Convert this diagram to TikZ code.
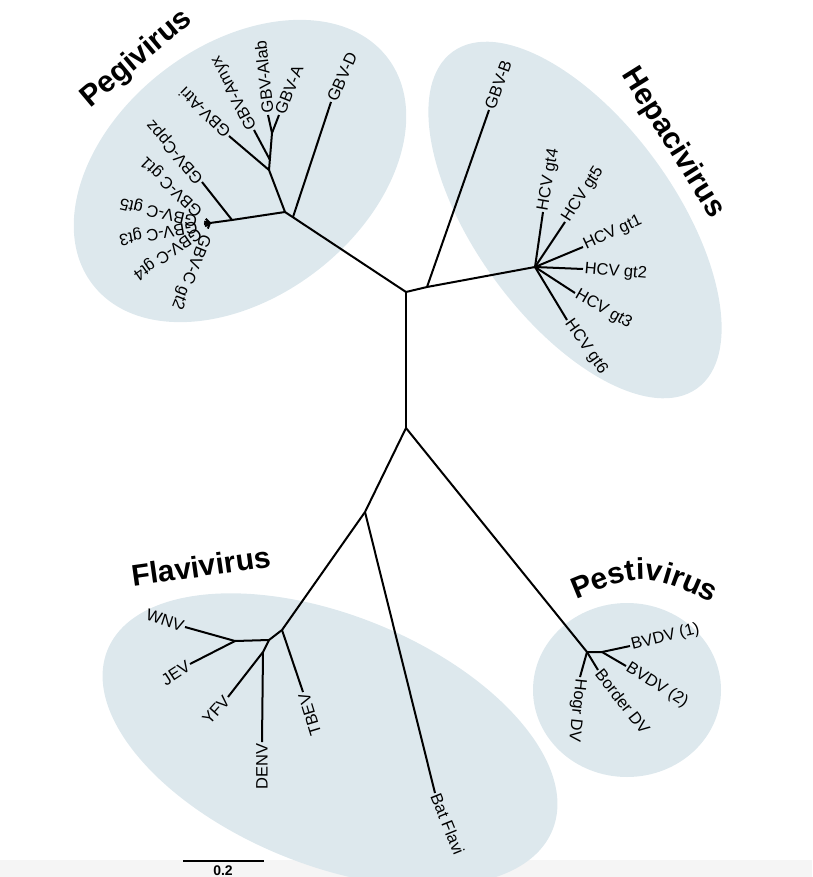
\documentclass[tikz,border=0pt]{standalone}
\usepackage{fontspec}
\setmainfont{Liberation Sans}
\usetikzlibrary{decorations.text}
\definecolor{cladebg}{HTML}{DDE8ED}
\definecolor{stripbg}{HTML}{F5F5F5}

\begin{document}
\begin{tikzpicture}[x=1pt,y=-1pt,
    branch/.style={line width=2pt},
    leaf/.style={font=\fontsize{16.5}{16.5}\selectfont, inner sep=1.5pt},
    crowdleaf/.style={leaf, inner xsep=7pt},
    cladename/.style={font=\bfseries\fontsize{30}{30}\selectfont, inner sep=0pt}
  ]
  \useasboundingbox (0,0) rectangle (812,877);
  \fill[stripbg] (0,860) rectangle (812,877);
  \fill[cladebg, rotate around={37.6:(240,171)}] (240,171) ellipse (186pt and 126pt);
  \fill[cladebg, rotate around={-54:(575,220)}] (575,220) ellipse (208pt and 100pt);
  \fill[cladebg, rotate around={-22:(330,740)}] (330,740) ellipse (240pt and 125pt);
  \fill[cladebg] (627,690) ellipse (94pt and 87pt);

  \node[cladename, rotate=40] (pegivirus) at (137,59) {Pegivirus};
  \node[cladename, rotate=-58] (hepacivirus) at (673,143) {Hepacivirus};
  \node[cladename, rotate=8] (flavivirus) at (201,566) {Flavivirus};
  \path[decorate, decoration={text along path, text align=center,
      text={|\bfseries\fontsize{30}{30}\selectfont|Pestivirus}}]
    (565,604) .. controls (644,571) .. (723,608);

  \coordinate (pegihepa) at (406,292);
  \coordinate (flavipesti) at (406,428);
  \coordinate (pegi) at (285,212);
  \coordinate (gbvdbase) at (293,217);
  \coordinate (gbvab) at (269,170);
  \coordinate (gbvamyx) at (270,160);
  \coordinate (gbvalab) at (272,133);
  \coordinate (gbvc) at (232,220);
  \coordinate (gbvchub) at (210,223);
  \coordinate (hepa) at (427,287);
  \coordinate (hcvhub) at (535,267);
  \coordinate (flavi) at (365,512);
  \coordinate (mbflavi) at (282,630);
  \coordinate (mbsplit) at (269,640);
  \coordinate (jewn) at (235,641);
  \coordinate (dyf) at (263,652);
  \coordinate (pesti) at (587,652);
  \coordinate (bvdv) at (602,652);

  \node[leaf, rotate=66, anchor=west] (gbvD) at (331,102) {GBV-D};
  \node[leaf, rotate=68, anchor=west] (gbvA) at (279,115) {GBV-A};
  \node[leaf, rotate=96, anchor=west] (gbvAlab) at (268,115) {GBV-Alab};
  \node[leaf, rotate=118, anchor=west] (gbvAmyx) at (254,130) {GBV-Amyx};
  \node[leaf, rotate=136, anchor=west] (gbvAtri) at (229,136) {GBV-Atri};
  \node[leaf, rotate=131, anchor=west] (gbvCppz) at (202,182) {GBV-Cppz};
  \node[crowdleaf, rotate=136, anchor=west] (gbvCgt1) at (205.7,218.8) {GBV-C gt1};
  \node[crowdleaf, rotate=167, anchor=west] (gbvCgt5) at (204.2,221.6) {GBV-C gt5};
  \node[crowdleaf, rotate=190, anchor=west] (gbvCgt3) at (204.1,224.0) {GBV-C gt3};
  \node[crowdleaf, rotate=215, anchor=west] (gbvCgt4) at (205.1,226.4) {GBV-C gt4};
  \node[crowdleaf, rotate=248, anchor=west] (gbvCgt2) at (207.8,228.6) {GBV-C gt2};

  \node[leaf, rotate=70, anchor=west] (gbvB) at (489,110) {GBV-B};
  \node[leaf, rotate=80, anchor=west] (hcvgt4) at (543,212) {HCV gt4};
  \node[leaf, rotate=57, anchor=west] (hcvgt5) at (565,222) {HCV gt5};
  \node[leaf, rotate=25, anchor=west] (hcvgt1) at (583,247) {HCV gt1};
  \node[leaf, rotate=-5, anchor=west] (hcvgt2) at (583,269) {HCV gt2};
  \node[leaf, rotate=-30, anchor=west] (hcvgt3) at (575,293) {HCV gt3};
  \node[leaf, rotate=-55, anchor=west] (hcvgt6) at (567,320) {HCV gt6};

  \node[leaf, rotate=-68, anchor=west] (batflavi) at (435,793) {Bat Flavi};
  \node[leaf, rotate=107, anchor=east] (tbev) at (303,692) {TBEV};
  \node[leaf, rotate=-18, anchor=east] (wnv) at (185,627) {WNV};
  \node[leaf, rotate=33, anchor=east] (jev) at (190,664) {JEV};
  \node[leaf, rotate=48, anchor=east] (yfv) at (228,697) {YFV};
  \node[leaf, rotate=90, anchor=east] (denv) at (262,742) {DENV};

  \node[leaf, rotate=14, anchor=west] (bvdvone) at (630,646) {BVDV (1)};
  \node[leaf, rotate=-32, anchor=west] (bvdvtwo) at (626,666) {BVDV (2)};
  \node[leaf, rotate=-52, anchor=west] (borderdv) at (598,670) {Border DV};
  \node[leaf, rotate=-96, anchor=west] (hogrdv) at (580,677) {Hogr DV};

  \draw[branch] (pegihepa) -- (flavipesti);
  \draw[branch] (pegihepa) -- (pegi);
  \draw[branch] (gbvdbase) -- (gbvD.west);
  \draw[branch] (pegi) -- (gbvab) -- (gbvalab);
  \draw[branch] (gbvab) -- (gbvAtri.west);
  \draw[branch] (gbvamyx) -- (gbvAmyx.west);
  \draw[branch] (gbvalab) -- (gbvAlab.west);
  \draw[branch] (gbvalab) -- (gbvA.west);
  \draw[branch] (pegi) -- (gbvc) -- (gbvchub);
  \draw[branch] (gbvc) -- (gbvCppz.west);
  \foreach \gt in {gbvCgt1,gbvCgt5,gbvCgt3,gbvCgt4,gbvCgt2}
    \draw[branch] (gbvchub) -- (\gt.west);

  \draw[branch] (pegihepa) -- (hepa) -- (hcvhub);
  \draw[branch] (hepa) -- (gbvB.west);
  \foreach \gt in {hcvgt4,hcvgt5,hcvgt1,hcvgt2,hcvgt3,hcvgt6}
    \draw[branch] (hcvhub) -- (\gt.west);

  \draw[branch] (flavipesti) -- (flavi) -- (mbflavi) -- (mbsplit) -- (jewn);
  \draw[branch] (flavi) -- (batflavi.west);
  \draw[branch] (mbflavi) -- (tbev.east);
  \draw[branch] (jewn) -- (wnv.east);
  \draw[branch] (jewn) -- (jev.east);
  \draw[branch] (mbsplit) -- (dyf) -- (yfv.east);
  \draw[branch] (dyf) -- (denv.east);

  \draw[branch] (flavipesti) -- (pesti) -- (bvdv);
  \draw[branch] (bvdv) -- (bvdvone.west);
  \draw[branch] (bvdv) -- (bvdvtwo.west);
  \draw[branch] (pesti) -- (borderdv.west);
  \draw[branch] (pesti) -- (hogrdv.west);

  \coordinate (scaleleft) at (183,861);
  \coordinate (scaleright) at (264,861);
  \draw[branch] (scaleleft) -- (scaleright);
  \node[font=\bfseries\fontsize{14}{14}\selectfont, inner sep=0pt] (scalelabel) at (223,871) {0.2};
\end{tikzpicture}
\end{document}
